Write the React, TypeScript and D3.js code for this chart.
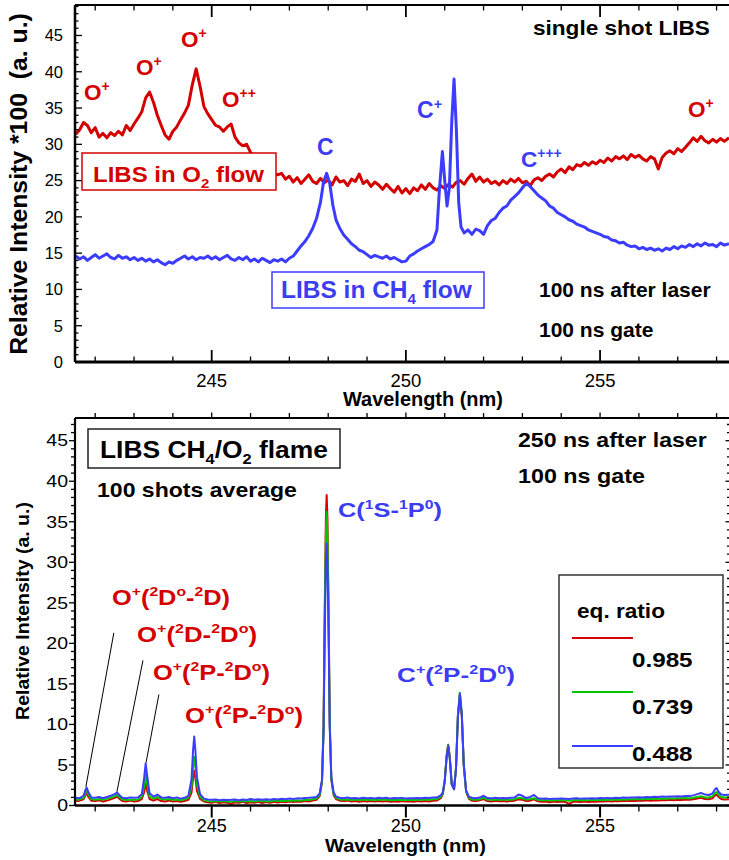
import React, { useLayoutEffect, useRef, useState } from 'react';
import * as d3 from 'd3';

// ---------- data ----------
// Single-shot spectra (intensity x100, a.u.) : [wavelength nm, intensity]
const O2_FLOW: [number, number][] = [
  [241.5, 31.4], [241.6, 32.0], [241.7, 33.0], [241.8, 32.6], [241.9, 31.6], [242.0, 32.3], [242.1, 31.0], [242.2, 31.5], [242.3, 30.9], [242.4, 31.6],
  [242.5, 31.2], [242.6, 31.8], [242.7, 31.3], [242.8, 32.6], [242.9, 31.9], [243.0, 32.8], [243.1, 33.6], [243.2, 34.5], [243.3, 36.4], [243.4, 37.2],
  [243.5, 35.8], [243.6, 34.0], [243.7, 32.6], [243.8, 31.3], [243.9, 30.7], [244.0, 31.8], [244.1, 32.4], [244.2, 33.4], [244.3, 34.3], [244.4, 35.4],
  [244.5, 38.2], [244.6, 40.4], [244.7, 38.0], [244.8, 35.2], [244.9, 34.2], [245.0, 33.4], [245.1, 32.6], [245.2, 32.4], [245.3, 31.8], [245.4, 32.4],
  [245.5, 32.8], [245.6, 31.0], [245.7, 30.2], [245.8, 29.8], [245.9, 30.0], [246.0, 28.9], [246.1, 28.2], [246.2, 27.5], [246.3, 27.2], [246.4, 26.6],
  [246.5, 26.8], [246.6, 26.0], [246.7, 25.8], [246.8, 26.0], [246.9, 25.2], [247.0, 25.6], [247.1, 24.8], [247.2, 25.4], [247.3, 24.6], [247.4, 25.2],
  [247.5, 25.8], [247.6, 24.9], [247.7, 24.6], [247.8, 25.3], [247.9, 24.7], [248.0, 25.1], [248.1, 24.4], [248.2, 25.5], [248.3, 24.8], [248.4, 25.0],
  [248.5, 24.3], [248.6, 25.2], [248.7, 24.9], [248.8, 25.9], [248.9, 24.6], [249.0, 25.0], [249.1, 24.2], [249.2, 24.8], [249.3, 24.4], [249.4, 23.8],
  [249.5, 24.5], [249.6, 23.9], [249.7, 23.4], [249.8, 24.2], [249.9, 23.3], [250.0, 23.9], [250.1, 23.2], [250.2, 24.0], [250.3, 23.6], [250.4, 24.4],
  [250.5, 23.8], [250.6, 24.6], [250.7, 24.0], [250.8, 23.7], [250.9, 24.3], [251.0, 23.9], [251.1, 24.5], [251.2, 24.1], [251.3, 24.8], [251.4, 25.0],
  [251.5, 24.5], [251.6, 25.3], [251.7, 25.9], [251.8, 24.9], [251.9, 25.5], [252.0, 24.8], [252.1, 25.2], [252.2, 24.6], [252.3, 24.9], [252.4, 24.4],
  [252.5, 25.0], [252.6, 24.6], [252.7, 25.2], [252.8, 24.8], [252.9, 25.3], [253.0, 24.7], [253.1, 24.9], [253.2, 24.3], [253.3, 25.1], [253.4, 25.4],
  [253.5, 25.0], [253.6, 25.6], [253.7, 25.9], [253.8, 25.5], [253.9, 26.2], [254.0, 26.6], [254.1, 26.1], [254.2, 26.9], [254.3, 26.5], [254.4, 27.2],
  [254.5, 27.0], [254.6, 27.5], [254.7, 27.1], [254.8, 27.6], [254.9, 27.3], [255.0, 27.8], [255.1, 27.5], [255.2, 28.1], [255.3, 27.7], [255.4, 28.3],
  [255.5, 28.0], [255.6, 28.4], [255.7, 27.9], [255.8, 28.6], [255.9, 28.2], [256.0, 28.5], [256.1, 28.0], [256.2, 27.7], [256.3, 28.3], [256.4, 28.0],
  [256.5, 26.6], [256.6, 28.2], [256.7, 28.8], [256.8, 29.1], [256.9, 28.7], [257.0, 29.4], [257.1, 29.0], [257.2, 29.6], [257.3, 30.2], [257.4, 30.9],
  [257.5, 30.4], [257.6, 31.1], [257.7, 30.5], [257.8, 30.2], [257.9, 30.7], [258.0, 30.3], [258.1, 30.8], [258.2, 30.4], [258.32, 30.9],
];

const CH4_FLOW: [number, number][] = [
  [241.5, 14.6], [241.6, 14.2], [241.7, 14.5], [241.8, 14.0], [241.9, 14.4], [242.0, 14.8], [242.1, 14.3], [242.2, 14.6], [242.3, 14.9], [242.4, 14.4],
  [242.5, 14.2], [242.6, 14.7], [242.7, 14.3], [242.8, 14.5], [242.9, 14.1], [243.0, 14.4], [243.1, 14.0], [243.2, 14.3], [243.3, 13.9], [243.4, 14.2],
  [243.5, 13.8], [243.6, 14.1], [243.7, 13.7], [243.8, 13.4], [243.9, 13.8], [244.0, 13.6], [244.1, 14.0], [244.2, 14.3], [244.3, 14.6], [244.4, 14.2],
  [244.5, 14.5], [244.6, 14.1], [244.7, 14.4], [244.8, 14.3], [244.9, 14.6], [245.0, 14.2], [245.1, 14.5], [245.2, 14.1], [245.3, 14.4], [245.4, 14.7],
  [245.5, 14.2], [245.6, 14.0], [245.7, 14.4], [245.8, 14.1], [245.9, 14.5], [246.0, 13.9], [246.1, 14.2], [246.2, 13.8], [246.3, 14.3], [246.4, 14.0],
  [246.5, 13.7], [246.6, 14.1], [246.7, 13.9], [246.8, 14.2], [246.9, 13.8], [247.0, 14.3], [247.1, 14.6], [247.2, 15.3], [247.3, 16.0], [247.4, 16.6],
  [247.5, 17.4], [247.6, 18.4], [247.7, 19.8], [247.8, 22.0], [247.88, 24.8], [247.96, 26.0], [248.04, 24.6], [248.12, 21.6], [248.2, 19.6], [248.3, 18.4],
  [248.4, 17.5], [248.5, 16.9], [248.6, 16.3], [248.7, 15.9], [248.8, 15.4], [248.9, 15.2], [249.0, 14.8], [249.1, 14.4], [249.2, 14.7], [249.3, 14.5],
  [249.4, 14.3], [249.5, 14.6], [249.6, 14.2], [249.7, 14.4], [249.8, 14.1], [249.9, 13.8], [250.0, 13.9], [250.1, 14.6], [250.2, 14.9], [250.3, 15.3],
  [250.4, 15.6], [250.5, 15.9], [250.6, 16.2], [250.7, 16.6], [250.8, 18.2], [250.86, 23.5], [250.94, 29.0], [251.0, 25.0], [251.06, 21.5], [251.12, 24.0],
  [251.18, 33.0], [251.24, 39.0], [251.3, 32.0], [251.36, 22.0], [251.42, 18.6], [251.5, 17.8], [251.6, 18.2], [251.7, 17.6], [251.8, 18.3], [251.9, 18.1],
  [252.0, 17.6], [252.1, 18.8], [252.2, 19.5], [252.3, 19.8], [252.4, 20.6], [252.5, 21.2], [252.6, 21.5], [252.7, 22.3], [252.8, 22.8], [252.9, 23.3],
  [253.0, 24.0], [253.1, 24.6], [253.2, 24.2], [253.3, 23.6], [253.4, 23.0], [253.5, 22.6], [253.6, 22.2], [253.7, 21.5], [253.8, 21.2], [253.9, 20.6],
  [254.0, 20.3], [254.1, 20.0], [254.2, 19.6], [254.3, 19.4], [254.4, 19.0], [254.5, 18.8], [254.6, 18.6], [254.7, 18.2], [254.8, 18.0], [254.9, 17.8],
  [255.0, 17.6], [255.1, 17.3], [255.2, 17.2], [255.3, 16.8], [255.4, 16.7], [255.5, 16.4], [255.6, 16.5], [255.7, 16.1], [255.8, 15.9], [255.9, 16.0],
  [256.0, 15.6], [256.1, 15.8], [256.2, 15.5], [256.3, 15.7], [256.4, 15.4], [256.5, 15.6], [256.6, 15.3], [256.7, 15.7], [256.8, 15.5], [256.9, 15.9],
  [257.0, 15.6], [257.1, 16.0], [257.2, 15.8], [257.3, 16.2], [257.4, 15.9], [257.5, 16.3], [257.6, 16.0], [257.7, 16.4], [257.8, 16.1], [257.9, 16.2],
  [258.0, 15.9], [258.1, 16.4], [258.2, 16.1], [258.32, 16.3],
];

// 100-shot averaged flame spectra, shared wavelength axis (nm)
const FLAME_NM = [
  241.50, 241.60, 241.70, 241.75, 241.78, 241.82, 241.90, 242.00, 242.10, 242.20,
  242.30, 242.40, 242.50, 242.56, 242.62, 242.70, 242.80, 242.90, 243.00, 243.10,
  243.20, 243.26, 243.30, 243.34, 243.40, 243.50, 243.60, 243.70, 243.80, 243.90,
  244.00, 244.10, 244.20, 244.30, 244.40, 244.48, 244.52, 244.55, 244.58, 244.62,
  244.70, 244.80, 244.90, 245.00, 245.10, 245.20, 245.30, 245.40, 245.50, 245.60,
  245.70, 245.80, 245.90, 246.00, 246.10, 246.20, 246.30, 246.40, 246.50, 246.60,
  246.70, 246.80, 246.90, 247.00, 247.10, 247.20, 247.30, 247.40, 247.50, 247.60,
  247.70, 247.78, 247.84, 247.88, 247.91, 247.94, 247.96, 247.98, 248.01, 248.04,
  248.08, 248.14, 248.20, 248.30, 248.40, 248.50, 248.60, 248.70, 248.80, 248.90,
  249.00, 249.10, 249.20, 249.30, 249.40, 249.50, 249.60, 249.70, 249.80, 249.90,
  250.00, 250.10, 250.20, 250.30, 250.40, 250.50, 250.60, 250.70, 250.80, 250.90,
  250.95, 251.00, 251.05, 251.09, 251.13, 251.18, 251.24, 251.29, 251.34, 251.39,
  251.44, 251.49, 251.55, 251.62, 251.70, 251.80, 251.90, 252.00, 252.10, 252.20,
  252.30, 252.40, 252.50, 252.60, 252.70, 252.80, 252.90, 253.00, 253.10, 253.20,
  253.30, 253.40, 253.50, 253.60, 253.70, 253.80, 253.90, 254.00, 254.10, 254.20,
  254.30, 254.40, 254.50, 254.60, 254.70, 254.80, 254.90, 255.00, 255.10, 255.20,
  255.30, 255.40, 255.50, 255.60, 255.70, 255.80, 255.90, 256.00, 256.10, 256.20,
  256.30, 256.40, 256.50, 256.60, 256.70, 256.80, 256.90, 257.00, 257.10, 257.20,
  257.30, 257.40, 257.50, 257.60, 257.70, 257.80, 257.90, 257.96, 258.00, 258.05,
  258.12, 258.20, 258.32,
];

// equivalence ratio 0.985
const PHI_0985 = [
  0.55, 0.60, 0.75, 1.30, 1.55, 1.10, 0.60, 0.55, 0.65, 0.50,
  0.60, 0.75, 0.95, 1.10, 0.85, 0.55, 0.50, 0.60, 0.50, 0.55,
  0.80, 1.60, 2.70, 1.80, 0.80, 0.60, 0.80, 0.55, 0.50, 0.60,
  0.50, 0.55, 0.45, 0.55, 0.70, 1.60, 3.40, 4.30, 3.40, 1.80,
  0.80, 0.50, 0.40, 0.35, 0.45, 0.30, 0.40, 0.35, 0.20, 0.40,
  0.35, 0.45, 0.30, 0.40, 0.35, 0.45, 0.30, 0.42, 0.35, 0.45,
  0.38, 0.45, 0.40, 0.48, 0.42, 0.50, 0.45, 0.55, 0.50, 0.60,
  0.70, 1.15, 2.90, 9.80, 24.0, 35.5, 38.3, 35.5, 24.0, 10.2,
  3.20, 1.25, 0.80, 0.60, 0.55, 0.60, 0.50, 0.55, 0.45, 0.55,
  0.50, 0.55, 0.48, 0.56, 0.50, 0.54, 0.46, 0.52, 0.45, 0.55,
  0.48, 0.52, 0.46, 0.54, 0.50, 0.56, 0.50, 0.58, 0.62, 0.90,
  1.40, 3.00, 6.20, 7.50, 6.00, 2.70, 2.05, 4.50, 11.0, 13.6,
  11.0, 5.00, 1.75, 0.85, 0.60, 0.55, 0.65, 0.80, 0.55, 0.50,
  0.58, 0.52, 0.56, 0.50, 0.55, 0.60, 0.75, 0.70, 0.55, 0.60,
  0.75, 0.52, 0.45, 0.50, 0.40, 0.48, 0.42, 0.50, 0.44, 0.20,
  0.46, 0.50, 0.42, 0.48, 0.44, 0.50, 0.46, 0.52, 0.48, 0.54,
  0.50, 0.56, 0.52, 0.58, 0.54, 0.60, 0.56, 0.62, 0.58, 0.64,
  0.60, 0.66, 0.62, 0.68, 0.64, 0.70, 0.66, 0.72, 0.68, 0.74,
  0.70, 0.78, 0.85, 0.95, 0.80, 0.78, 0.90, 1.25, 1.35, 1.05,
  0.80, 0.75, 0.78,
];

// equivalence ratio 0.739
const PHI_0739 = [
  0.70, 0.75, 0.95, 1.60, 1.80, 1.40, 0.80, 0.70, 0.80, 0.70,
  0.85, 0.95, 1.15, 1.30, 1.05, 0.75, 0.70, 0.75, 0.70, 0.75,
  1.10, 2.40, 3.80, 2.60, 1.10, 0.85, 1.05, 0.80, 0.75, 0.80,
  0.70, 0.75, 0.65, 0.75, 0.95, 2.30, 4.80, 6.00, 4.80, 2.60,
  1.05, 0.65, 0.55, 0.50, 0.55, 0.50, 0.55, 0.50, 0.45, 0.55,
  0.50, 0.55, 0.48, 0.55, 0.50, 0.58, 0.52, 0.56, 0.50, 0.60,
  0.55, 0.60, 0.55, 0.62, 0.58, 0.65, 0.60, 0.70, 0.68, 0.78,
  0.85, 1.30, 3.00, 9.50, 23.0, 33.5, 36.2, 33.5, 23.0, 10.0,
  3.30, 1.40, 0.95, 0.75, 0.70, 0.75, 0.70, 0.72, 0.68, 0.75,
  0.70, 0.72, 0.66, 0.74, 0.70, 0.72, 0.66, 0.70, 0.68, 0.72,
  0.66, 0.70, 0.68, 0.72, 0.70, 0.74, 0.70, 0.76, 0.80, 1.05,
  1.50, 3.00, 6.10, 7.40, 5.90, 2.60, 2.00, 4.60, 11.2, 13.9,
  11.3, 5.10, 1.80, 0.95, 0.75, 0.70, 0.78, 0.95, 0.72, 0.70,
  0.74, 0.70, 0.74, 0.70, 0.72, 0.78, 0.95, 0.90, 0.72, 0.80,
  0.90, 0.70, 0.66, 0.68, 0.62, 0.66, 0.64, 0.68, 0.64, 0.60,
  0.66, 0.68, 0.64, 0.68, 0.65, 0.70, 0.66, 0.70, 0.68, 0.72,
  0.70, 0.74, 0.72, 0.76, 0.74, 0.78, 0.76, 0.80, 0.78, 0.82,
  0.80, 0.84, 0.82, 0.86, 0.84, 0.88, 0.86, 0.90, 0.88, 0.92,
  0.90, 0.96, 1.05, 1.15, 1.00, 0.98, 1.15, 1.55, 1.65, 1.35,
  1.05, 1.00, 1.02,
];

// equivalence ratio 0.488
const PHI_0488 = [
  0.95, 0.90, 1.20, 1.95, 2.20, 1.70, 1.00, 0.95, 1.05, 0.90,
  1.05, 1.20, 1.40, 1.60, 1.30, 0.95, 0.90, 1.00, 0.95, 1.00,
  1.40, 3.40, 5.20, 3.60, 1.50, 1.10, 1.35, 1.00, 0.95, 1.05,
  0.90, 1.00, 0.85, 0.95, 1.20, 3.20, 6.80, 8.50, 6.80, 3.50,
  1.40, 0.85, 0.75, 0.70, 0.75, 0.65, 0.72, 0.68, 0.70, 0.75,
  0.66, 0.74, 0.68, 0.80, 0.70, 0.76, 0.70, 0.78, 0.72, 0.80,
  0.75, 0.82, 0.78, 0.85, 0.80, 0.88, 0.85, 0.92, 0.95, 1.00,
  1.05, 1.50, 3.20, 9.00, 21.0, 30.0, 32.3, 30.0, 21.0, 9.50,
  3.50, 1.60, 1.10, 0.95, 0.90, 0.98, 0.88, 0.92, 0.86, 0.95,
  0.90, 0.94, 0.86, 0.96, 0.90, 0.95, 0.85, 0.92, 0.88, 0.94,
  0.86, 0.90, 0.88, 0.92, 0.90, 0.95, 0.92, 0.98, 1.00, 1.25,
  1.60, 3.00, 6.00, 7.30, 5.80, 2.60, 2.00, 4.50, 11.0, 13.8,
  11.2, 5.00, 1.90, 1.10, 0.95, 0.90, 0.98, 1.20, 0.92, 0.88,
  0.95, 0.90, 0.94, 0.90, 0.95, 1.00, 1.35, 1.20, 0.92, 1.05,
  1.30, 0.90, 0.82, 0.86, 0.80, 0.84, 0.82, 0.86, 0.84, 0.80,
  0.85, 0.88, 0.84, 0.86, 0.85, 0.90, 0.86, 0.92, 0.88, 0.94,
  0.90, 0.96, 0.94, 0.98, 0.96, 1.00, 0.98, 1.02, 1.00, 1.05,
  1.02, 1.08, 1.05, 1.10, 1.08, 1.12, 1.10, 1.15, 1.12, 1.18,
  1.16, 1.25, 1.40, 1.55, 1.35, 1.30, 1.50, 2.00, 2.15, 1.70,
  1.35, 1.30, 1.32,
];

const EQ_RATIOS = ['0.985', '0.739', '0.488'];

const X_DOMAIN: [number, number] = [241.48, 258.32];
const X_TICKS = [245, 250, 255];
const Y_TICKS = [0, 5, 10, 15, 20, 25, 30, 35, 40, 45];

// leader lines from line labels down to the weak O+ peaks: [nm, intensity]
const LEADERS: [[number, number], [number, number]][] = [
  [[241.76, 2.3], [242.48, 21.3]],
  [[242.56, 1.7], [243.23, 17.9]],
  [[243.31, 5.3], [243.64, 13.7]],
];

// ---------- style ----------
const FONT = '"Liberation Sans", Arial, Helvetica, sans-serif';
const RED = '#d40000';
const GREEN = '#00c800';
const BLUE = '#3c3cff';
const BLUE_TXT = '#3c3cf2';
const W = 729;
const H = 860;

type Seg = { t: string; k: number };
function parseRich(s: string): Seg[] {
  const out: Seg[] = [];
  let buf = '';
  let i = 0;
  const flush = () => {
    if (buf) out.push({ t: buf, k: 0 });
    buf = '';
  };
  while (i < s.length) {
    const c = s[i];
    if (c === '^' || c === '_') {
      flush();
      let t: string;
      if (s[i + 1] === '{') {
        const j = s.indexOf('}', i + 2);
        t = s.slice(i + 2, j);
        i = j + 1;
      } else {
        t = s[i + 1];
        i += 2;
      }
      out.push({ t, k: c === '^' ? 1 : -1 });
    } else {
      buf += c;
      i++;
    }
  }
  flush();
  return out;
}

type LabelProps = {
  x: number;
  y: number;
  text: string;
  size: number;
  fill?: string;
  weight?: number;
  anchor?: 'start' | 'middle' | 'end';
  width?: number; // target rendered width; text is stretched horizontally to it
  sx?: number;
  rotate?: number;
};

function Label({ x, y, text, size, fill = '#000', weight = 700, anchor = 'start', width, sx: fixedSx, rotate = 0 }: LabelProps) {
  const ref = useRef<SVGTextElement>(null);
  const [sx, setSx] = useState(fixedSx ?? 1);
  useLayoutEffect(() => {
    if (!width || !ref.current) return;
    const w = ref.current.getBBox().width;
    if (w > 0) setSx(width / w);
  }, [width, text, size]);
  const segs = parseRich(text);
  let cur = 0;
  const spans = segs.map((sg, i) => {
    const target = sg.k === 1 ? -size * 0.4 : sg.k === -1 ? size * 0.28 : 0;
    const dy = target - cur;
    cur = target;
    return (
      <tspan key={i} dy={dy} fontSize={sg.k ? size * 0.62 : size}>
        {sg.t}
      </tspan>
    );
  });
  return (
    <text
      ref={ref}
      transform={`translate(${x},${y}) rotate(${rotate}) scale(${sx},1)`}
      fontSize={size}
      fontWeight={weight}
      fill={fill}
      textAnchor={anchor}
      style={{ whiteSpace: 'pre' }}
    >
      {spans}
    </text>
  );
}

export default function App() {
  const x = d3.scaleLinear().domain(X_DOMAIN).range([75, W]);
  const yTop = d3.scaleLinear().domain([0, 49.2]).range([362, 5]);
  const yBot = d3.scaleLinear().domain([0, 47.8]).range([805.5, 418]);

  const lineTop = d3
    .line<[number, number]>()
    .x((d) => x(d[0]))
    .y((d) => yTop(d[1]));
  const lineBot = d3
    .line<number>()
    .x((_, i) => x(FLAME_NM[i]))
    .y((d) => yBot(d));

  const xMinor = d3.range(242, 259).filter((v) => !X_TICKS.includes(v));
  const yMinorTop = d3.range(0, 50).filter((v) => v % 5 !== 0);
  const yMinorBot = d3.range(0, 48).filter((v) => v % 5 !== 0);

  const topL = 75;
  const topR = W;
  const t0 = yTop.range()[1];
  const t1 = yTop.range()[0];
  const b0 = yBot.range()[1];
  const b1 = yBot.range()[0];

  const flameSeries = [
    { v: PHI_0985, c: RED },
    { v: PHI_0739, c: GREEN },
    { v: PHI_0488, c: BLUE },
  ];
  const legendY = [638, 692, 746];
  const legendLabelY = [667, 714, 761];

  return (
    <svg
      width={W}
      height={H}
      viewBox={`0 0 ${W} ${H}`}
      style={{ position: 'absolute', left: 0, top: 0, background: '#fff', display: 'block' }}
      fontFamily={FONT}
    >
      <rect x={0} y={0} width={W} height={H} fill="#fff" />
      <defs>
        <clipPath id="clipTop">
          <rect x={topL} y={t0} width={topR - topL} height={t1 - t0} />
        </clipPath>
        <clipPath id="clipBot">
          <rect x={topL} y={b0} width={topR - topL} height={b1 - b0} />
        </clipPath>
      </defs>

      {/* ================= upper panel: single shot ================= */}
      <g clipPath="url(#clipTop)" fill="none" strokeLinejoin="round">
        <path d={lineTop(O2_FLOW) ?? ''} stroke={RED} strokeWidth={3} />
        <path d={lineTop(CH4_FLOW) ?? ''} stroke={BLUE} strokeWidth={3} />
      </g>

      {/* frame */}
      <line x1={topL} x2={topR} y1={t0} y2={t0} stroke="#000" strokeWidth={2} />
      <line x1={topL} x2={topR} y1={t1} y2={t1} stroke="#000" strokeWidth={2.8} />
      <line x1={topL} x2={topL} y1={t0} y2={t1} stroke="#000" strokeWidth={2.5} />
      {/* inward ticks */}
      <g stroke="#000" strokeWidth={1.3}>
        {X_TICKS.map((v) => (
          <g key={`tM${v}`}>
            <line x1={x(v)} x2={x(v)} y1={t1} y2={t1 - 12} strokeWidth={1.8} />
            <line x1={x(v)} x2={x(v)} y1={t0} y2={t0 + 12} strokeWidth={1.8} />
          </g>
        ))}
        {xMinor.map((v) => (
          <g key={`tm${v}`}>
            <line x1={x(v)} x2={x(v)} y1={t1} y2={t1 - 5.5} />
            <line x1={x(v)} x2={x(v)} y1={t0} y2={t0 + 5.5} />
          </g>
        ))}
        {Y_TICKS.map((v) => (
          <line key={`yM${v}`} x1={topL} x2={topL + 7} y1={yTop(v)} y2={yTop(v)} />
        ))}
        {yMinorTop.map((v) => (
          <line key={`ym${v}`} x1={topL} x2={topL + 3.5} y1={yTop(v)} y2={yTop(v)} />
        ))}
      </g>
      {/* tick labels */}
      {Y_TICKS.map((v) => (
        <text key={`yl${v}`} x={63} y={yTop(v) + 5.8} fontSize={16.5} textAnchor="end" fill="#000">
          {v}
        </text>
      ))}
      {X_TICKS.map((v) => (
        <text key={`xl${v}`} x={x(v)} y={386.5} fontSize={18.5} textAnchor="middle" fill="#000">
          {v}
        </text>
      ))}
      <Label x={343} y={405.5} text="Wavelength (nm)" size={21} width={160} />
      <Label x={27} y={184} text="Relative Intensity *100  (a. u.)" size={24} anchor="middle" rotate={-90} width={342} />

      {/* annotations */}
      <Label x={533} y={35} text="single shot LIBS" size={21} width={177} />
      <Label x={539} y={297} text="100 ns after laser" size={21} />
      <Label x={539} y={337} text="100 ns gate" size={21} />

      <rect x={82} y={153} width={194} height={37} fill="#fff" stroke={RED} strokeWidth={1.5} />
      <Label x={93} y={182} text="LIBS in O_2 flow" size={22} fill={RED} width={172} />
      <rect x={272} y={272} width={212} height={36} fill="#fff" stroke={BLUE} strokeWidth={1.5} />
      <Label x={281} y={298} text="LIBS in CH_4 flow" size={23} fill={BLUE_TXT} width={191} />

      <Label x={84} y={100} text="O^+" size={22.5} fill={RED} />
      <Label x={136} y={75} text="O^+" size={22.5} fill={RED} />
      <Label x={181} y={47} text="O^+" size={22.5} fill={RED} />
      <Label x={222} y={107} text="O^{++}" size={22.5} fill={RED} />
      <Label x={688} y={117} text="O^+" size={22.5} fill={RED} />
      <Label x={317} y={155} text="C" size={23} fill={BLUE_TXT} />
      <Label x={417} y={118} text="C^+" size={23} fill={BLUE_TXT} />
      <Label x={521} y={167} text="C^{+++}" size={22.5} fill={BLUE_TXT} />

      {/* ================= lower panel: flame, 100 shots ================= */}
      <g clipPath="url(#clipBot)" fill="none" strokeLinejoin="round">
        {flameSeries.map((s) => (
          <path key={s.c} d={lineBot(s.v.slice(0, FLAME_NM.length)) ?? ''} stroke={s.c} strokeWidth={2} />
        ))}
      </g>

      {/* frame */}
      <line x1={topL} x2={topR} y1={b0} y2={b0} stroke="#000" strokeWidth={2} />
      <line x1={topL} x2={topR} y1={b1} y2={b1} stroke="#000" strokeWidth={2.5} />
      <line x1={topL} x2={topL} y1={b0} y2={b1} stroke="#000" strokeWidth={2.2} />
      {/* outward ticks */}
      <g stroke="#000" strokeWidth={1.3}>
        {X_TICKS.map((v) => (
          <g key={`bM${v}`}>
            <line x1={x(v)} x2={x(v)} y1={b1} y2={b1 + 12} strokeWidth={2} />
            <line x1={x(v)} x2={x(v)} y1={b0} y2={b0 - 5.5} />
          </g>
        ))}
        {xMinor.map((v) => (
          <g key={`bm${v}`}>
            <line x1={x(v)} x2={x(v)} y1={b1} y2={b1 + 6} />
            <line x1={x(v)} x2={x(v)} y1={b0} y2={b0 - 5} />
          </g>
        ))}
        {Y_TICKS.map((v) => (
          <g key={`bY${v}`}>
            <line x1={topL} x2={topL - 6} y1={yBot(v)} y2={yBot(v)} />
            <line x1={topR} x2={topR - 3.5} y1={yBot(v)} y2={yBot(v)} />
          </g>
        ))}
        {yMinorBot.map((v) => (
          <g key={`by${v}`}>
            <line x1={topL} x2={topL - 4} y1={yBot(v)} y2={yBot(v)} />
            <line x1={topR} x2={topR - 2} y1={yBot(v)} y2={yBot(v)} />
          </g>
        ))}
      </g>
      {Y_TICKS.map((v) => (
        <Label key={`byl${v}`} x={68} y={yBot(v) + 5.8} text={String(v)} size={16.5} weight={400} anchor="end" sx={1.18} />
      ))}
      {X_TICKS.map((v) => (
        <text key={`bxl${v}`} x={x(v)} y={832} fontSize={18} textAnchor="middle" fill="#000">
          {v}
        </text>
      ))}
      <Label x={325} y={852} text="Wavelength (nm)" size={18} width={161} />
      <Label x={29} y={611} text="Relative Intensity (a. u.)" size={19} anchor="middle" rotate={-90} width={218} />

      {/* annotations */}
      <rect x={88} y={429} width={252} height={39} fill="#fff" stroke="#222" strokeWidth={1.5} />
      <Label x={100} y={458} text="LIBS CH_4/O_2 flame" size={23} width={228} />
      <Label x={97} y={497} text="100 shots average" size={20} width={200} />
      <Label x={518} y={447} text="250 ns after laser" size={20} width={189} />
      <Label x={518} y={483} text="100 ns gate" size={20} width={127} />

      <Label x={338} y={517} text="C(^1S-^1P^0)" size={21} fill={BLUE_TXT} width={104} />
      <Label x={397} y={682} text="C^+(^2P-^2D^0)" size={21} fill={BLUE_TXT} width={118} />

      <Label x={112} y={605} text="O^+(^2D^o-^2D)" size={22} fill={RED} width={118} />
      <Label x={137} y={642} text="O^+(^2D-^2D^o)" size={22} fill={RED} width={120} />
      <Label x={153} y={680} text="O^+(^2P-^2D^o)" size={22} fill={RED} width={117} />
      <Label x={185} y={723} text="O^+(^2P-^2D^o)" size={22} fill={RED} width={118} />

      <g stroke="#000" strokeWidth={1}>
        {LEADERS.map(([a, b], i) => (
          <line key={`ld${i}`} x1={x(a[0])} y1={yBot(a[1])} x2={x(b[0])} y2={yBot(b[1])} />
        ))}
      </g>

      {/* legend */}
      <rect x={559} y={575} width={164} height={193} fill="#fff" stroke="#333" strokeWidth={1.5} />
      <Label x={577} y={618} text="eq. ratio" size={21} width={88} />
      {flameSeries.map((s, i) => (
        <g key={`lg${i}`}>
          <line x1={572} x2={633} y1={legendY[i]} y2={legendY[i]} stroke={s.c} strokeWidth={2} />
          <Label x={632} y={legendLabelY[i]} text={EQ_RATIOS[i]} size={21} width={61} />
        </g>
      ))}
    </svg>
  );
}
